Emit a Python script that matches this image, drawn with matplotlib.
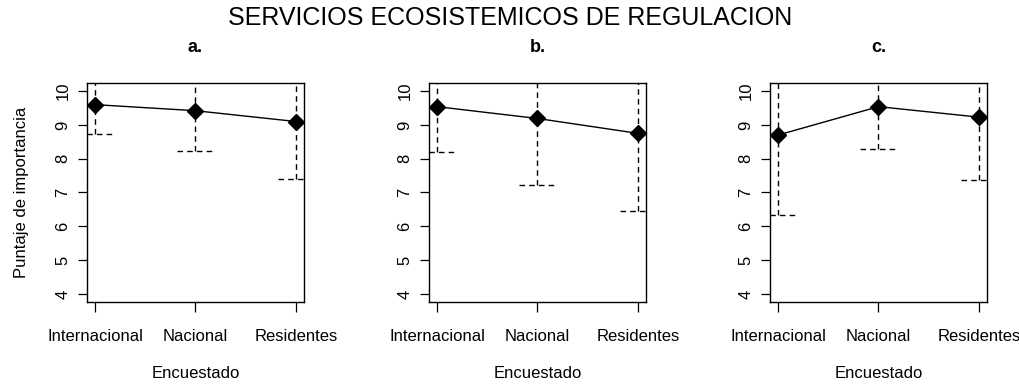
"""
Mean importance scores with lower limits, three panels.
"""
import matplotlib
matplotlib.use("Agg")
import matplotlib.pyplot as plt

plt.rcParams['font.family'] = ['Liberation Sans', 'DejaVu Sans']

groups = ["Internacional", "Nacional", "Residentes"]
panel_titles = ["a.", "b.", "c."]

means_a = [9.60, 9.42, 9.10]
lower_a = [8.73, 8.23, 7.41]
means_b = [9.54, 9.19, 8.75]
lower_b = [8.20, 7.21, 6.46]
means_c = [8.70, 9.54, 9.23]
lower_c = [6.34, 8.28, 7.36]

panels = [(means_a, lower_a), (means_b, lower_b), (means_c, lower_c)]

W, H = 1020, 385
fig = plt.figure(figsize=(W / 100, H / 100), dpi=100)

lefts = [87, 429, 770]
x = [1, 2, 3]
dash = (0, (4, 3))

for i, (means, lower) in enumerate(panels):
    ax = fig.add_axes([lefts[i] / W, (H - 302) / H, 217 / W, 219 / H])
    upper = [m + (m - lo) for m, lo in zip(means, lower)]
    for xi, m, lo, up in zip(x, means, lower, upper):
        ax.plot([xi, xi], [lo, up], color='black', lw=1.0, linestyle=dash)
        ax.plot([xi - 0.18, xi + 0.18], [lo, lo], color='black', lw=1.0,
                linestyle=dash)
    ax.plot(x, means, color='black', lw=1.0)
    ax.plot(x, means, 'D', color='black', ms=8)

    ax.set_xlim(0.92, 3.08)
    ax.set_ylim(3.76, 10.24)
    ax.set_xticks(x)
    ax.set_xticklabels(groups, fontsize=12)
    ax.set_yticks(range(4, 11))
    ax.set_yticklabels([str(v) for v in range(4, 11)], fontsize=12,
                       rotation=90, va='center')
    ax.tick_params(axis='x', length=7.5, width=0.9, pad=12)
    ax.tick_params(axis='y', length=6.8, width=0.9, pad=5)
    for s in ax.spines.values():
        s.set_linewidth(1.0)
    ax.set_xlabel("Encuestado", fontsize=12, labelpad=16)
    ax.set_title(panel_titles[i], fontsize=13, fontweight='bold', pad=22)
    if i == 0:
        ax.set_ylabel("Puntaje de importancia", fontsize=12, labelpad=19)

fig.suptitle("SERVICIOS ECOSISTEMICOS DE REGULACION", fontsize=18,
             x=0.5, y=1 - 18 / H, va='center')

fig.savefig("out.png", dpi=100)
